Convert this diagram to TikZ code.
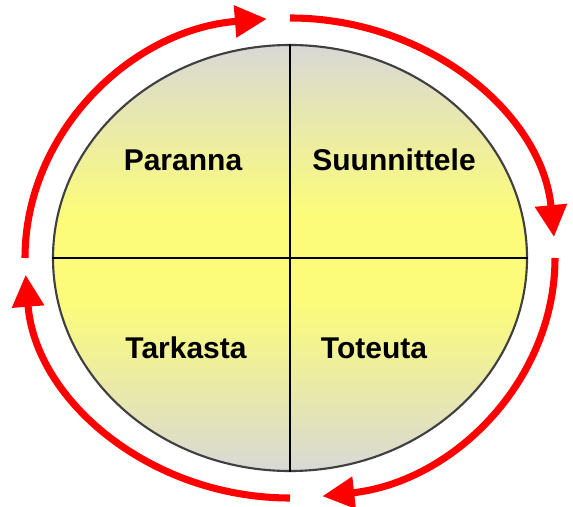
\documentclass[tikz,border=0pt]{standalone}
\usepackage{fontspec}
\setmainfont{Liberation Sans}
\usetikzlibrary{arrows.meta,shapes.geometric}
\definecolor{CycleRed}{RGB}{255,0,0}
\definecolor{DiscGrey}{RGB}{216,216,214}
\definecolor{DiscYellow}{RGB}{252,252,122}
\pgfdeclareverticalshading{discfill}{100bp}{color(0bp)=(DiscGrey); color(25bp)=(DiscGrey);
  color(45bp)=(DiscYellow); color(55bp)=(DiscYellow); color(75bp)=(DiscGrey); color(100bp)=(DiscGrey)}
\tikzset{
  phase/.style={font=\bfseries\fontsize{22.5}{27}\selectfont,text=black},
  cyclearrow/.style={CycleRed,line width=5.3pt,-{Triangle[length=24pt,width=23pt]}}
}

\begin{document}
\begin{tikzpicture}[x=.75pt,y=.75pt]
  \useasboundingbox (0,0) rectangle (573,506);
  \node[ellipse,draw=black!75,line width=1.6pt,shade,shading=discfill,
        minimum width=355.5pt,minimum height=319.5pt,inner sep=0pt] (disc) at (290,248) {};
  \draw[line width=1.1pt] (disc.north) -- (disc.south);
  \draw[line width=1.1pt] (disc.west) -- (disc.east);
  \node[phase] (paranna) at (183,346) {Paranna};
  \node[phase] (suunnittele) at (394,346) {Suunnittele};
  \node[phase] (tarkasta) at (186,158) {Tarkasta};
  \node[phase] (toteuta) at (374,158) {Toteuta};
  \foreach \a/\b in {90/5,0/-83,-90/-176,180/95}
    \draw[cyclearrow] (disc.center) ++(\a:265 and 240)
      arc[start angle=\a,end angle=\b,x radius=265,y radius=240];
\end{tikzpicture}
\end{document}
